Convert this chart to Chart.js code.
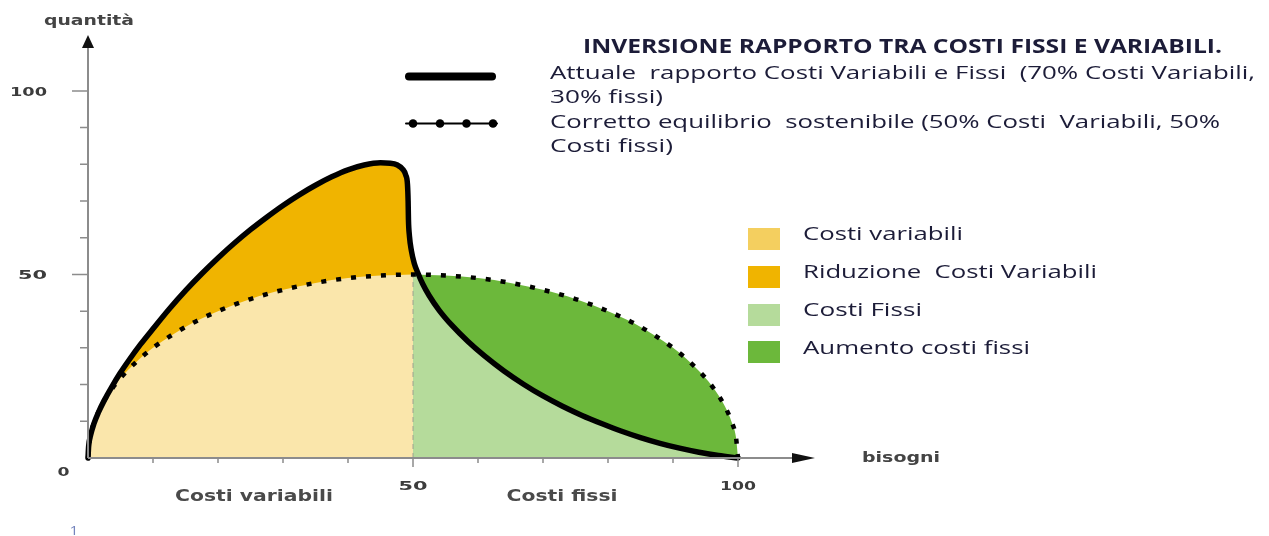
<!DOCTYPE html>
<html><head><meta charset="utf-8">
<script src="https://cdn.jsdelivr.net/npm/chart.js@4"></script>
<style>html,body{margin:0;padding:0;background:#fff;}canvas{display:block;}</style>
</head><body>
<canvas id="c" width="1269" height="536"></canvas>
<script>
// ---- data ----
const dottedX = [0, 0.3, 1, 2, 4, 6, 8, 10, 13, 16, 20, 25, 30, 35, 40, 45, 50, 55, 60, 65, 70, 75, 80, 84, 87, 90, 92, 94, 96, 98, 99, 99.7, 100];
const dottedY = [0, 5.5, 9.9, 14.0, 19.6, 23.7, 27.1, 30.0, 33.6, 36.7, 40.0, 43.3, 45.8, 47.7, 49.0, 49.7, 50, 49.7, 49.0, 47.7, 45.8, 43.3, 40.0, 36.7, 33.6, 30.0, 27.1, 23.7, 19.6, 14.0, 9.9, 5.5, 0];

const solidLeftX = [0, 0.1, 0.4, 0.9, 1.6, 2.5, 3.6, 4.9, 6.4, 8.1, 10, 12.5, 15, 17.5, 20, 22.5, 25, 27.5, 30, 32.5, 35, 37.5, 40, 42.5, 45, 46.5, 47.6, 48.4, 48.9, 49.15, 49.25, 49.3, 49.45, 49.75, 50.2, 50.8];
const solidLeftY = [0, 3.2, 6.2, 9.3, 12.4, 15.7, 19.2, 23.0, 26.9, 31.0, 35.2, 40.6, 45.6, 50.2, 54.5, 58.5, 62.2, 65.6, 68.8, 71.7, 74.3, 76.6, 78.5, 79.8, 80.4, 80.3, 79.8, 78.7, 77, 74.5, 70, 65, 60.5, 56.5, 53, 50.2];

const solidRightX = [50.8, 51.5, 52.5, 54, 56, 58.5, 61, 64, 67, 70, 73, 76, 79, 82, 85, 88, 91, 94, 97, 100];
const solidRightY = [50.2, 47.4, 44.2, 40.3, 36.1, 31.65, 27.8, 23.7, 20.1, 16.9, 14.1, 11.6, 9.4, 7.36, 5.56, 4.0, 2.68, 1.57, 0.67, 0];

const splitX = 50;
const xTickValues = [0, 10, 20, 30, 40, 50, 60, 70, 80, 90, 100];
const yTickValues = [0, 10, 20, 30, 40, 50, 60, 70, 80, 90, 100];
const xLabelValues = [50, 100];
const xLabelTexts = ['50', '100'];
const yLabelValues = [50, 100];
const yLabelTexts = ['50', '100'];
const originLabel = '0';

const titleText = 'INVERSIONE RAPPORTO TRA COSTI FISSI E VARIABILI.';
const lineLegendTexts = [
  'Attuale  rapporto Costi Variabili e Fissi  (70% Costi Variabili,',
  '30% fissi)',
  'Corretto equilibrio  sostenibile (50% Costi  Variabili, 50%',
  'Costi fissi)'
];
const areaLegendTexts = ['Costi variabili', 'Riduzione  Costi Variabili', 'Costi Fissi', 'Aumento costi fissi'];
const areaLegendColors = ['#F4CF5F', '#F0B400', '#B5DB9B', '#6CB83B'];
const xAxisTitle = 'bisogni';
const yAxisTitle = 'quantità';
const regionLabels = ['Costi variabili', 'Costi fissi'];
const pageNumber = '1';

// ---- build points ----
const pts = (xs, ys) => xs.map((x, i) => ({x: x, y: ys[i]}));
const dotted = pts(dottedX, dottedY);
const dottedLeft = dotted.filter(p => p.x <= splitX);
const dottedRight = dotted.filter(p => p.x >= splitX);
const solidLeft = pts(solidLeftX, solidLeftY);
const solidRight = pts(solidRightX, solidRightY);
const solidAll = solidLeft.concat(solidRight.slice(1));
const dottedAtSplit = dotted.find(p => p.x === splitX);
const lightGreenPts = [{x: splitX, y: dottedAtSplit.y}].concat(solidRight);

const fillDs = (data, color, order) => ({
  data: data, fill: 'origin', backgroundColor: color, borderColor: 'transparent', borderWidth: 0,
  pointRadius: 0, order: order, clip: false, cubicInterpolationMode: 'monotone'
});

function fitText(ctx, text, x, baseline, width, font, color, align) {
  ctx.save();
  ctx.font = font;
  ctx.fillStyle = color;
  ctx.textBaseline = 'alphabetic';
  ctx.textAlign = 'left';
  const w = ctx.measureText(text).width;
  const sx = width / w;
  const left = align === 'center' ? x - width / 2 : (align === 'right' ? x - width : x);
  ctx.translate(left, baseline);
  ctx.scale(sx, 1);
  ctx.fillText(text, 0, 0);
  ctx.restore();
}

const deco = {
  id: 'deco',
  afterDatasetsDraw(chart) {
    const ctx = chart.ctx, xs = chart.scales.x, ys = chart.scales.y, ca = chart.chartArea;
    const X = v => xs.getPixelForValue(v), Y = v => ys.getPixelForValue(v);
    const x0 = X(0), y0 = Y(0);
    ctx.save();
    ctx.strokeStyle = '#8c8c8c';
    ctx.lineWidth = 2;
    ctx.beginPath();
    ctx.moveTo(x0, y0); ctx.lineTo(ca.right - 20, y0);
    ctx.moveTo(x0, y0); ctx.lineTo(x0, ca.top + 12);
    ctx.stroke();
    ctx.lineWidth = 1.5;
    ctx.beginPath();
    xTickValues.forEach(v => {
      if (v === 0) return;
      const major = xLabelValues.includes(v);
      ctx.moveTo(X(v), y0); ctx.lineTo(X(v), y0 + (major ? 9 : 5));
    });
    yTickValues.forEach(v => {
      if (v === 0) return;
      const major = yLabelValues.includes(v);
      ctx.moveTo(x0, Y(v)); ctx.lineTo(x0 - (major ? 16 : 8), Y(v));
    });
    ctx.stroke();
    ctx.fillStyle = '#111';
    ctx.beginPath();
    ctx.moveTo(ca.right - 1, y0); ctx.lineTo(ca.right - 24, y0 - 5); ctx.lineTo(ca.right - 24, y0 + 5); ctx.closePath();
    ctx.fill();
    ctx.beginPath();
    ctx.moveTo(x0, ca.top + 1); ctx.lineTo(x0 - 6, ca.top + 14); ctx.lineTo(x0 + 6, ca.top + 14); ctx.closePath();
    ctx.fill();
    ctx.restore();
  },
  afterDraw(chart) {
    const ctx = chart.ctx, xs = chart.scales.x, ys = chart.scales.y;
    const X = v => xs.getPixelForValue(v), Y = v => ys.getPixelForValue(v);
    const numFont = 'bold 12px "DejaVu Sans"';
    const grey = '#3c3c3c';
    yLabelValues.forEach((v, i) => {
      const t = yLabelTexts[i];
      fitText(ctx, t, 47, Y(v) + 5, t.length === 3 ? 37 : 29, numFont, grey, 'right');
    });
    xLabelValues.forEach((v, i) => {
      const t = xLabelTexts[i];
      fitText(ctx, t, X(v), Y(0) + 32, t.length === 3 ? 36 : 29, numFont, grey, 'center');
    });
    fitText(ctx, originLabel, 63.5, Y(0) + 18, 12, numFont, grey, 'center');
    fitText(ctx, yAxisTitle, 44, 25, 90, 'bold 14px "DejaVu Sans"', '#444', 'left');
    fitText(ctx, xAxisTitle, 862, 462, 78, 'bold 14px "DejaVu Sans"', '#444', 'left');
    fitText(ctx, regionLabels[0], 254, 501, 158, 'bold 15px "DejaVu Sans"', '#4a4a4a', 'center');
    fitText(ctx, regionLabels[1], 562, 501, 111, 'bold 15px "DejaVu Sans"', '#4a4a4a', 'center');
    fitText(ctx, pageNumber, 74, 535, 9, '13px "Open Sans"', '#7484bd', 'center');
    const dark = '#1c1c38';
    fitText(ctx, titleText, 583, 53, 639, 'bold 20px "Open Sans"', dark, 'left');
    const lw = [705, 113, 670, 123];
    const lb = [79, 103, 128, 152];
    lineLegendTexts.forEach((t, i) => fitText(ctx, t, 550, lb[i], lw[i], '18px "Open Sans"', dark, 'left'));
    ctx.save();
    ctx.strokeStyle = '#000';
    ctx.lineCap = 'round';
    ctx.lineWidth = 8;
    ctx.beginPath(); ctx.moveTo(409, 76.5); ctx.lineTo(492, 76.5); ctx.stroke();
    ctx.lineWidth = 2;
    ctx.beginPath(); ctx.moveTo(406, 123.5); ctx.lineTo(497, 123.5); ctx.stroke();
    ctx.fillStyle = '#000';
    [413, 440, 466.5, 493].forEach(x => { ctx.beginPath(); ctx.arc(x, 123.5, 4.3, 0, Math.PI * 2); ctx.fill(); });
    const rowTop = [228, 266, 304, 341];
    const tb = [240, 278, 316, 354];
    const tw = [160, 294, 119, 227];
    areaLegendTexts.forEach((t, i) => {
      ctx.fillStyle = areaLegendColors[i];
      ctx.fillRect(748, rowTop[i], 32, 22);
      fitText(ctx, t, 803, tb[i], tw[i], '19px "Open Sans"', dark, 'left');
    });
    ctx.restore();
  }
};

new Chart(document.getElementById('c'), {
  type: 'line',
  data: {
    datasets: [
      fillDs(solidLeft, '#F0B400', 10),
      fillDs(dottedLeft, '#FAE6AB', 9),
      fillDs(dottedRight, '#6CB83B', 8),
      fillDs(lightGreenPts, '#B5DB9B', 7),
      {data: [{x: splitX, y: 0}, {x: splitX, y: dottedAtSplit.y}], fill: false, borderColor: 'rgba(150,150,140,0.55)',
       borderWidth: 1.5, borderDash: [5, 4], pointRadius: 0, order: 3, clip: false},
      {data: dotted, fill: false, borderColor: '#000', borderWidth: 4.5, borderDash: [5, 10], borderCapStyle: 'butt',
       pointRadius: 0, order: 2, clip: false, cubicInterpolationMode: 'monotone'},
      {data: solidAll, fill: false, borderColor: '#000', borderWidth: 5.5, borderCapStyle: 'round', borderJoinStyle: 'round',
       pointRadius: 0, order: 1, clip: false, cubicInterpolationMode: 'monotone'}
    ]
  },
  options: {
    responsive: false,
    animation: false,
    devicePixelRatio: 1,
    layout: {padding: {left: 88, right: 453, top: 34, bottom: 78}},
    scales: {
      x: {type: 'linear', min: 0, max: 112, display: false},
      y: {type: 'linear', min: 0, max: 115.5, display: false}
    },
    plugins: {
      legend: {display: false},
      tooltip: {enabled: false},
      filler: {drawTime: 'beforeDatasetsDraw'}
    },
    events: []
  },
  plugins: [deco]
});
</script>
</body></html>
